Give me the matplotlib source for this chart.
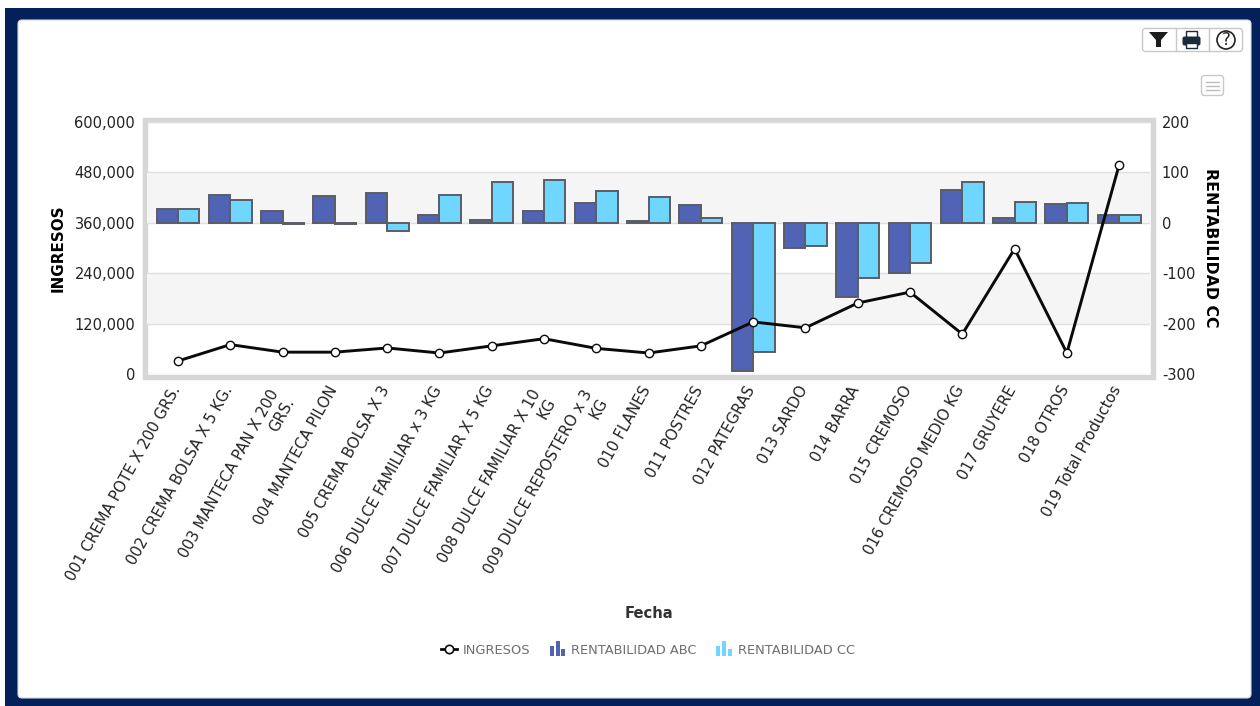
import matplotlib
matplotlib.use("Agg")
import matplotlib.pyplot as plt
from matplotlib.patches import Rectangle, FancyBboxPatch, Polygon, Circle
from matplotlib.lines import Line2D
from matplotlib.legend_handler import HandlerBase
from matplotlib.ticker import FuncFormatter
from matplotlib.transforms import Affine2D, ScaledTranslation

plt.rcParams["axes.unicode_minus"] = False

categories = ["001 CREMA POTE X 200 GRS.", "002 CREMA BOLSA X 5 KG.", "003 MANTECA PAN X 200\nGRS.",
              "004 MANTECA PILON", "005 CREMA BOLSA X 3", "006 DULCE FAMILIAR x 3 KG",
              "007 DULCE FAMILIAR X 5 KG", "008 DULCE FAMILIAR X 10\nKG", "009 DULCE REPOSTERO x 3\nKG",
              "010 FLANES", "011 POSTRES", "012 PATEGRAS", "013 SARDO", "014 BARRA", "015 CREMOSO",
              "016 CREMOSO MEDIO KG", "017 GRUYERE", "018 OTROS", "019 Total Productos"]
ingresos = [31000, 70000, 52000, 52000, 62000, 50000, 67000, 84000, 61000, 50000, 67000,
            124000, 110000, 169000, 195000, 95000, 298000, 50000, 498000]
rent_abc = [28, 55, 23, 53, 60, 16, 5, 23, 40, 3, 36, -295, -50, -147, -100, 65, 10, 38, 15]
rent_cc = [28, 46, -2, -2, -17, 56, 80, 85, 63, 51, 10, -257, -47, -109, -80, 80, 42, 40, 15]
left_ticks = [0, 120000, 240000, 360000, 480000, 600000]
right_ticks = [-300, -200, -100, 0, 100, 200]

NAVY = "#02215b"
ABC = "#5163b5"
CC = "#6fd6ff"
EDGE = "#5a5d66"
W, H = 1260, 706

fig = plt.figure(figsize=(W / 100, H / 100), dpi=100, facecolor="white")
px = Affine2D().scale(1 / W, -1 / H).translate(0, 1) + fig.transFigure


def add(p):
    p.set_transform(px)
    fig.add_artist(p)
    p.set_zorder(-5)
    return p


add(Rectangle((5, 8), 1255, 698, fc=NAVY, ec="none"))
add(FancyBboxPatch((21, 23), 1227, 672, boxstyle="round,pad=3,rounding_size=4", fc="white", ec="#d5d8dd", lw=0.8))

# plotting frame
add(Rectangle((144.5, 119.5), 1008, 257.5, fc="white", ec="#d6d6d6", lw=3.9))

L, R, T, B = 147, 1150, 122, 374
ax = fig.add_axes([L / W, 1 - B / H, (R - L) / W, (B - T) / H])
ax2 = ax.twinx()
ax.set_zorder(3)
ax2.set_zorder(2)
ax.patch.set_visible(False)
ax2.patch.set_visible(False)

x = list(range(len(categories)))
xl = (-0.593, 18.59)
bw = 0.41
ax2.axhspan(0, 100, fc="#f5f5f5", ec="none", zorder=0)
ax2.axhspan(-200, -100, fc="#f5f5f5", ec="none", zorder=0)
ax2.bar([i - bw / 2 for i in x], rent_abc, bw, color=ABC, edgecolor=EDGE, linewidth=1.4, zorder=2, label="RENTABILIDAD ABC")
ax2.bar([i + bw / 2 for i in x], rent_cc, bw, color=CC, edgecolor=EDGE, linewidth=1.4, zorder=2.1, label="RENTABILIDAD CC")
ax2.grid(axis="y", color="#e0e0e0", lw=1, zorder=1)
ax2.set_axisbelow(True)
ax2.set_ylim(-300, 200)
ax2.set_yticks(right_ticks)

ln, = ax.plot(x, ingresos, color="#0a0a0a", lw=2.1, marker="o", ms=6.0, mfc="white", mec="#0a0a0a", mew=1.0,
              clip_on=False, zorder=5, label="INGRESOS")
ax.set_ylim(0, 600000)
ax.set_xlim(*xl)
ax.set_yticks(left_ticks)
ax.yaxis.set_major_formatter(FuncFormatter(lambda v, _: f"{int(v):,}"))
ax.set_xticks(x)
ax.set_xticklabels(categories, rotation=61, ha="right", va="top", rotation_mode="anchor", ma="right", fontsize=10.8, color="#222222")

for a in (ax, ax2):
    for s in a.spines.values():
        s.set_visible(False)
ax.tick_params(axis="y", length=0, pad=8.5, labelsize=10.5, labelcolor="#222222")
ax2.tick_params(axis="y", length=0, pad=8.5, labelsize=10.5, labelcolor="#222222")
ax.tick_params(axis="x", length=0, pad=6)

for lab in ax.get_xticklabels():
    if "\n" in lab.get_text():
        dx, dy = -14, -5
    else:
        dx, dy = -8, -1
    lab.set_transform(lab.get_transform() + ScaledTranslation(dx / 100, dy / 100, fig.dpi_scale_trans))

fig.text(58 / W, 1 - 248 / H, "INGRESOS", rotation=90, ha="center", va="center", fontsize=10.9, fontweight="bold", color="black")
fig.text(1211 / W, 1 - 248 / H, "RENTABILIDAD CC", rotation=-90, ha="center", va="center", fontsize=11.3, fontweight="bold", color="black")
fig.text(649 / W, 1 - 613.5 / H, "Fecha", ha="center", va="center", fontsize=10.6, fontweight="bold", color="#333333")


class MiniBars(HandlerBase):
    def create_artists(self, legend, orig, xd, yd, width, height, fontsize, trans):
        c = orig.get_facecolor()
        w = width / 3.8
        out = []
        for k, h in enumerate((1.0, 1.55, 0.7)):
            out.append(Rectangle((k * width * 0.37, -yd - 1.5), w, height * h, fc=c, ec="none", transform=trans))
        return out


hb = Rectangle((0, 0), 1, 1, fc=ABC)
hc = Rectangle((0, 0), 1, 1, fc=CC)
hl = Line2D([], [], color="#0a0a0a", lw=2, marker="o", ms=6, mfc="white", mec="#0a0a0a", mew=1.2)
leg = fig.legend([hl, hb, hc], ["INGRESOS", "RENTABILIDAD ABC", "RENTABILIDAD CC"], ncol=3,
                 loc="center", bbox_to_anchor=(648 / W, 1 - 650 / H), frameon=False, fontsize=9.4,
                 labelcolor="#6f6f6f", handlelength=1.2, handletextpad=0.45, columnspacing=1.5,
                 handler_map={hb: MiniBars(), hc: MiniBars()})

# toolbar buttons
add(FancyBboxPatch((1143, 29), 99, 22, boxstyle="round,pad=0.5,rounding_size=3", fc="white", ec="#c8c8c8", lw=1))
for bx in (1176, 1209):
    add(Line2D([bx, bx], [29, 51], color="#c8c8c8", lw=1))
add(Polygon([(1149, 32), (1168, 32), (1161, 40), (1161, 47), (1156, 47), (1156, 40)], fc="#1c1c1c", ec="none"))
add(Rectangle((1186, 30.5), 11, 7, fc="white", ec="#1c2a3a", lw=1))
add(FancyBboxPatch((1183, 37), 17, 8, boxstyle="round,pad=0.5,rounding_size=2", fc="#1c2a3a", ec="none"))
add(Rectangle((1186, 43), 11, 5, fc="white", ec="#1c2a3a", lw=1))
add(Circle((1226, 40), 9, fc="white", ec="#222222", lw=1.2))
fig.text(1226 / W, 1 - 40 / H, "?", ha="center", va="center", fontsize=12, color="#222222")
add(FancyBboxPatch((1202, 76), 21, 19, boxstyle="round,pad=0.5,rounding_size=3", fc="white", ec="#c8c8c8", lw=1))
for yy in (81.5, 85.5, 89.5):
    add(Line2D([1206, 1219], [yy, yy], color="#bdbdbd", lw=1))

fig.savefig("out.png", dpi=100)
